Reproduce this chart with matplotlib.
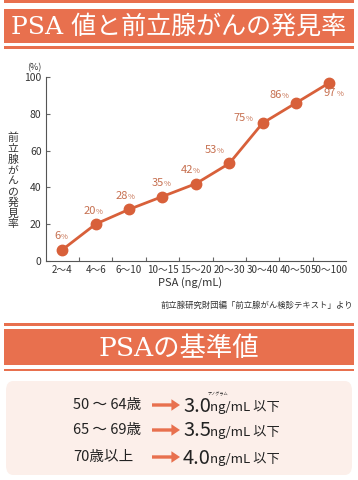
import matplotlib
matplotlib.use("Agg")
import matplotlib.pyplot as plt
from matplotlib.patches import Rectangle, FancyBboxPatch

plt.rcParams['font.family'] = ['Noto Sans CJK JP', 'DejaVu Sans']

# ---- data ----
categories = ["2～4", "4～6", "6～10", "10～15", "15～20", "20～30", "30～40", "40～50", "50～100"]
rates = [6, 20, 28, 35, 42, 53, 75, 86, 97]
yticks = [0, 20, 40, 60, 80, 100]
title1 = "PSA 値と前立腺がんの発見率"
title2 = "PSAの基準値"
ylabel = "前立腺がんの発見率"
xlabel = "PSA (ng/mL)"
source = "前立腺研究財団編「前立腺がん検診テキスト」より"
ages = ["50 ～ 64歳", "65 ～ 69歳", "70歳以上"]
limits = ["3.0", "3.5", "4.0"]
unit = "ng/mL 以下"
ruby = "ナノグラム"

# ---- style ----
W, H = 358, 480
ORANGE = "#e8704e"
LINE = "#d8603a"
LABEL = "#c66f4f"
BOXBG = "#fcefea"
# label offsets (points) relative to data points
offsets = [(-1, 6), (0, 6), (-1, 6), (1, 6), (-2, 6), (-9, 6), (-12, 0), (-10, 2), (5, -11)]

fig = plt.figure(figsize=(W / 100, H / 100), dpi=100)

def fx(x):
    return x / W

def fy(y):
    return 1 - y / H

def hband(y0, y1, color, x0=4, x1=354):
    fig.patches.append(Rectangle((fx(x0), fy(y1)), fx(x1) - fx(x0), fy(y0) - fy(y1),
                                 transform=fig.transFigure, color=color, lw=0))

# top banner
hband(0, 2.5, ORANGE)
hband(9, 43, ORANGE)
hband(46, 48.5, ORANGE)
fig.text(fx(179), fy(27), title1, color="white", fontsize=18, ha="center", va="center",
         family=['DejaVu Serif', 'Noto Sans CJK JP'])

# chart axes
ax_l, ax_r, ax_t, ax_b = 45.7, 346, 77.3, 260.7
ax = fig.add_axes([fx(ax_l), fy(ax_b), fx(ax_r) - fx(ax_l), fy(ax_t) - fy(ax_b)])
xs = [i + 0.5 for i in range(len(categories))]
ax.plot(xs, rates, color=LINE, lw=2, marker="o", ms=7.5, zorder=3, clip_on=False)
for x, v, (dx, dy) in zip(xs, rates, offsets):
    ax.annotate(str(v), (x, v), xytext=(dx, dy), textcoords="offset points",
                ha="right", va="bottom", fontsize=8, color=LABEL)
    ax.annotate("%", (x, v), xytext=(dx, dy), textcoords="offset points",
                ha="left", va="bottom", fontsize=5.5, color=LABEL)
ax.set_xlim(0, len(categories))
ax.set_ylim(0, 100)
ax.set_yticks(yticks)
ax.set_yticklabels([str(t) for t in yticks], fontsize=7.5, color="#333333")
ax.set_xticks(range(1, len(categories)))
ax.set_xticklabels([])
ax.set_xticks(xs, minor=True)
ax.set_xticklabels(categories, minor=True, fontsize=7, color="#333333")
ax.tick_params(axis="x", which="minor", length=0, pad=3)
ax.tick_params(axis="x", which="major", direction="in", length=3, color="#666666")
ax.tick_params(axis="y", direction="in", length=3, color="#666666", pad=3)
for s in ("top", "right"):
    ax.spines[s].set_visible(False)
for s in ("left", "bottom"):
    ax.spines[s].set_color("#555555")
    ax.spines[s].set_linewidth(0.8)
ax.set_facecolor("none")

fig.text(fx(34), fy(68), "(%)", fontsize=6.5, ha="center", va="center", color="#333333")
fig.text(fx(13), fy(181), "\n".join(ylabel), fontsize=7.8, ha="center", va="center",
         color="#333333", linespacing=1.08)
fig.text(fx(190), fy(283), xlabel, fontsize=8, ha="center", va="center", color="#333333")
fig.text(fx(353), fy(305), source, fontsize=6, ha="right", va="center", color="#333333")

# second banner
hband(323, 325.5, ORANGE)
hband(329, 365, ORANGE)
hband(368.5, 371, ORANGE)
fig.text(fx(179), fy(348), title2, color="white", fontsize=19, ha="center", va="center",
         family=['DejaVu Serif', 'Noto Sans CJK JP'])

# reference box
fig.patches.append(FancyBboxPatch((fx(6), fy(475)), fx(352) - fx(6), fy(381) - fy(475),
                                  boxstyle="round,pad=0,rounding_size=0.02",
                                  transform=fig.transFigure, color=BOXBG, lw=0))
row_y = [405, 430, 457]
for y, age, lim in zip(row_y, ages, limits):
    fig.text(fx(73), fy(y), age, fontsize=10.5, ha="left", va="center", color="#222222")
    fig.patches.append(matplotlib.patches.FancyArrow(
        fx(152), fy(y), fx(180) - fx(152), 0, width=0.007, head_width=0.024,
        head_length=0.024, length_includes_head=True, transform=fig.transFigure,
        color=ORANGE, lw=0))
    fig.text(fx(183), fy(y + 1), lim, fontsize=14.5, ha="left", va="center", color="#222222")
    fig.text(fx(210), fy(y + 2), unit, fontsize=9.5, ha="left", va="center", color="#222222")
fig.text(fx(218), fy(394), ruby, fontsize=3, ha="center", va="center", color="#222222")

fig.savefig("out.png", dpi=100)
